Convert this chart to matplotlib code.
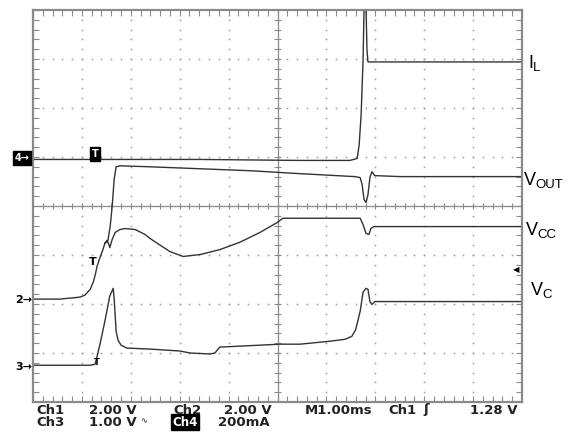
import matplotlib.pyplot as plt
import numpy as np

# scope traces, x in ms (1 ms/div), y in divisions from screen centre
t_il = [0, 1.37, 3.42, 5.46, 6.48, 6.63, 6.67, 6.71, 6.75, 6.77, 6.81, 6.83, 6.85, 7.51, 10]
il = [0.95, 0.95, 0.95, 0.93, 0.93, 0.97, 1.25, 1.86, 2.98, 4.05, 4.05, 3.19, 2.94, 2.94, 2.94]

t_vout = [1.47, 1.53, 1.58, 1.62, 1.66, 1.70, 1.78, 2.39, 3.42, 4.44, 5.46, 6.58, 6.69, 6.73,
          6.77, 6.81, 6.85, 6.89, 6.93, 6.99, 7.51, 10]
vout = [-0.76, -0.72, -0.40, 0.0, 0.55, 0.80, 0.82, 0.80, 0.76, 0.72, 0.66, 0.60, 0.58, 0.44,
        0.13, 0.07, 0.23, 0.58, 0.70, 0.62, 0.60, 0.60]

t_vcc = [0, 0.55, 0.96, 1.06, 1.17, 1.23, 1.27, 1.31, 1.37, 1.43, 1.47, 1.51, 1.55, 1.57, 1.62,
         1.68, 1.78, 1.88, 2.09, 2.29, 2.39, 2.60, 2.80, 3.07, 3.42, 3.82, 4.23, 4.64, 4.99, 5.11,
         5.46, 6.69, 6.75, 6.81, 6.87, 6.91, 6.97, 7.51, 10]
vcc = [-1.90, -1.90, -1.86, -1.82, -1.70, -1.56, -1.42, -1.23, -1.05, -0.89, -0.76, -0.70, -0.78,
       -0.85, -0.68, -0.54, -0.48, -0.46, -0.48, -0.58, -0.66, -0.80, -0.93, -1.03, -0.99, -0.89,
       -0.74, -0.54, -0.34, -0.25, -0.25, -0.25, -0.38, -0.56, -0.58, -0.46, -0.42, -0.42, -0.42]

t_vc = [0, 1.17, 1.27, 1.31, 1.37, 1.47, 1.57, 1.64, 1.66, 1.70, 1.74, 1.80, 1.92, 2.39, 3.01,
        3.21, 3.62, 3.72, 3.82, 4.23, 5.05, 5.46, 6.07, 6.38, 6.52, 6.60, 6.69, 6.75, 6.81, 6.85,
        6.89, 6.93, 6.99, 7.51, 10]
vc = [-3.25, -3.25, -3.23, -3.07, -2.82, -2.35, -1.84, -1.68, -1.90, -2.56, -2.74, -2.84, -2.90,
      -2.92, -2.96, -3.00, -3.02, -3.00, -2.88, -2.86, -2.82, -2.82, -2.76, -2.72, -2.66, -2.52,
      -2.15, -1.76, -1.68, -1.70, -1.95, -2.01, -1.95, -1.95, -1.95]

labels = [('I', 'L', 528, 68), ('V', 'OUT', 524, 185), ('V', 'CC', 526, 235), ('V', 'C', 531, 295)]

W, H = 571, 432
fig = plt.figure(figsize=(W / 100, H / 100), dpi=100)
ax = fig.add_axes([33 / W, 30 / H, 489 / W, 392 / H])
ax.set_xlim(0, 10)
ax.set_ylim(-4, 4)

grid_c = '#8a8a8a'
for s in ax.spines.values():
    s.set_color(grid_c)
    s.set_linewidth(1.6)
ax.set_xticks(np.arange(0, 10.01, 0.2))
ax.set_yticks(np.arange(-4, 4.01, 0.2))
ax.tick_params(direction='in', length=4, width=0.8, color=grid_c,
               top=True, right=True, labelbottom=False, labelleft=False)

# dotted graticule
for i in [1, 2, 3, 4, 6, 7, 8, 9]:
    yy = np.arange(-3.8, 3.81, 0.2)
    ax.plot(np.full_like(yy, i), yy, ls='none', marker='s', ms=1.1, mew=0, color='#9a9a9a')
for j in [-3, -2, -1, 1, 2, 3]:
    xx = np.arange(0.2, 9.81, 0.2)
    ax.plot(xx, np.full_like(xx, j), ls='none', marker='s', ms=1.1, mew=0, color='#9a9a9a')
# centre cross with ticks
ax.axhline(0, color=grid_c, lw=0.9)
ax.axvline(5, color=grid_c, lw=0.9)
xx = np.arange(0.2, 9.81, 0.2)
ax.vlines(xx, -0.07, 0.07, color=grid_c, lw=0.8)
yy = np.arange(-3.8, 3.81, 0.2)
ax.hlines(yy, 5 - 0.07, 5 + 0.07, color=grid_c, lw=0.8)

tc = '#333333'
for t, v in [(t_il, il), (t_vout, vout), (t_vcc, vcc), (t_vc, vc)]:
    ax.plot(t, v, color=tc, lw=1.0)

# trace markers
ax.text(1.23, -1.15, 'T', fontsize=8, fontweight='bold', ha='center', va='center', color='black')
ax.text(1.31, -3.2, 'T', fontsize=6, fontweight='bold', ha='center', va='center', color='black')


def px(x, y):
    return x / W, 1 - y / H


fig.text(*px(95, 154), 'T', fontsize=7, fontweight='bold', color='white', ha='center', va='center',
         bbox=dict(boxstyle='square,pad=0.2', fc='black', ec='black'))
fig.text(*px(22, 158), '4→', fontsize=7, fontweight='bold', color='white', ha='center', va='center',
         bbox=dict(boxstyle='square,pad=0.2', fc='black', ec='black'))
fig.text(*px(32, 300), '2→', fontsize=8, fontweight='bold', color='black', ha='right', va='center')
fig.text(*px(32, 367), '3→', fontsize=8, fontweight='bold', color='black', ha='right', va='center')
fig.text(*px(516, 270), '◀', fontsize=6, color='black', ha='center', va='center')

for main, sub, x, y in labels:
    fig.text(*px(x, y), main, fontsize=13, family='Liberation Sans', color='black', va='baseline')
    wpx = 5 if main == 'I' else 11
    fig.text(*px(x + wpx, y + 3), sub, fontsize=9.5, family='Liberation Sans', color='black',
             va='baseline')

# bottom status text
bc = '#222222'
row1 = [('Ch1', 36), ('2.00 V', 89), ('Ch2', 173), ('2.00 V', 224), ('M1.00ms', 305),
        ('Ch1', 388), ('ʃ', 423), ('1.28 V', 470)]
for s, x in row1:
    fig.text(*px(x, 410), s, fontsize=9.5, fontweight='bold', color=bc, va='center')
row2 = [('Ch3', 36), ('1.00 V', 89), ('200mA', 218)]
for s, x in row2:
    fig.text(*px(x, 422), s, fontsize=9.5, fontweight='bold', color=bc, va='center')
fig.text(*px(140, 421), '∿', fontsize=6, color=bc, va='center')
fig.text(*px(172, 422), 'Ch4', fontsize=8.5, fontweight='bold', color='white', va='center',
         bbox=dict(boxstyle='square,pad=0.1', fc='black', ec='black'))

fig.savefig('out.png', dpi=100)
